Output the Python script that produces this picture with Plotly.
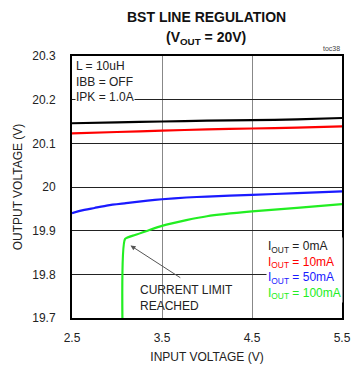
import plotly.graph_objects as go

# Input voltage sweep points (V) and measured output voltage (V) per load
vin_0ma = [2.5, 3.0, 3.5, 4.0, 4.5, 5.0, 5.5]
vout_0ma = [20.146, 20.148, 20.150, 20.152, 20.153, 20.155, 20.158]

vin_10ma = [2.5, 3.0, 3.5, 4.0, 4.5, 5.0, 5.5]
vout_10ma = [20.123, 20.126, 20.129, 20.132, 20.134, 20.136, 20.139]

vin_50ma = [2.5, 2.6, 2.75, 2.9, 3.1, 3.34, 3.5, 3.77, 4.0, 4.5, 5.0, 5.5]
vout_50ma = [19.940, 19.946, 19.952, 19.958, 19.963, 19.969, 19.972, 19.976, 19.978,
             19.982, 19.986, 19.990]

vin_100ma = [3.06, 3.09, 3.2, 3.34, 3.5, 3.77, 4.0, 4.5, 5.0, 5.5]
vout_100ma = [19.70, 19.881, 19.890, 19.900, 19.911, 19.924, 19.933, 19.944, 19.952, 19.961]

x_ticks = [2.5, 3.5, 4.5, 5.5]
y_ticks = [19.7, 19.8, 19.9, 20.0, 20.1, 20.2, 20.3]
y_tick_text = ["19.7", "19.8", "19.9", "20", "20.1", "20.2", "20.3"]

FONT = "Liberation Sans, Arial, sans-serif"

fig = go.Figure()
series = [
    (vin_0ma, vout_0ma, "#000000"),
    (vin_10ma, vout_10ma, "#ff0000"),
    (vin_50ma, vout_50ma, "#1a1aff"),
    (vin_100ma, vout_100ma, "#22ee22"),
]
for xs, ys, col in series:
    fig.add_trace(go.Scatter(x=xs, y=ys, mode="lines",
                             line=dict(color=col, width=2.2, shape="spline", smoothing=0.5),
                             showlegend=False, hoverinfo="skip"))

fig.update_xaxes(range=[2.5, 5.5], tickvals=x_ticks, ticktext=["2.5", "3.5", "4.5", "5.5"],
                 showgrid=True, gridcolor="#888888", gridwidth=1,
                 showline=True, linecolor="black", linewidth=2, mirror=True,
                 ticks="", zeroline=False, ticklabelstandoff=8,
                 tickfont=dict(family=FONT, size=12, color="#222"),
                 title=dict(text="INPUT VOLTAGE (V)", font=dict(family=FONT, size=12, color="#222"),
                            standoff=8))
fig.update_yaxes(range=[19.7, 20.3], tickvals=y_ticks, ticktext=y_tick_text,
                 showgrid=True, gridcolor="#222222", gridwidth=1,
                 showline=True, linecolor="black", linewidth=2, mirror=True,
                 ticks="", zeroline=False, ticklabelstandoff=12,
                 tickfont=dict(family=FONT, size=12, color="#222"),
                 title=dict(text="OUTPUT VOLTAGE (V)", font=dict(family=FONT, size=12, color="#222"),
                            standoff=7))

annotations = [
    dict(x=0.498, y=1.147, xref="paper", yref="paper", yanchor="middle",
         text="<b>BST LINE REGULATION</b>", showarrow=False,
         font=dict(family=FONT, size=14, color="#111")),
    dict(x=0.498, y=1.07, xref="paper", yref="paper", yanchor="middle",
         text="<b>(V<sub>OUT</sub> = 20V)</b>", showarrow=False,
         font=dict(family=FONT, size=14, color="#111")),
    dict(x=1.0, y=1.008, xref="paper", yref="paper", xanchor="right", yanchor="bottom",
         showarrow=False, text="toc38", font=dict(family=FONT, size=7, color="#444")),
    dict(x=2.53, y=20.295, xanchor="left", yanchor="top", showarrow=False, align="left",
         text="L = 10uH<br>IBB = OFF<br>IPK = 1.0A", bgcolor="white", borderpad=0,
         font=dict(family=FONT, size=12, color="#222")),
    dict(x=5.08, y=19.81, xanchor="center", yanchor="middle", showarrow=False, align="left",
         text=("I<sub>OUT</sub> = 0mA<br>"
               "<span style='color:#ff0000'>I<sub>OUT</sub> = 10mA</span><br>"
               "<span style='color:#1a1aff'>I<sub>OUT</sub> = 50mA</span><br>"
               "<span style='color:#22ee22'>I<sub>OUT</sub> = 100mA</span>"),
         bgcolor="white", borderpad=1,
         font=dict(family=FONT, size=12, color="#222")),
    dict(x=3.15, y=19.866, ax=3.72, ay=19.79, axref="x", ayref="y",
         showarrow=True, arrowhead=2, arrowsize=1, arrowwidth=1, arrowcolor="#555",
         text=""),
    dict(x=3.23, y=19.745, xanchor="left", yanchor="middle", showarrow=False, align="left",
         text="CURRENT LIMIT<br>REACHED", font=dict(family=FONT, size=12, color="#222")),
]
fig.update_layout(
    width=358, height=369,
    margin=dict(l=72, r=7, t=56, b=48),
    paper_bgcolor="white", plot_bgcolor="white",
    annotations=annotations,
    showlegend=False,
)

fig.write_html("out.html")
